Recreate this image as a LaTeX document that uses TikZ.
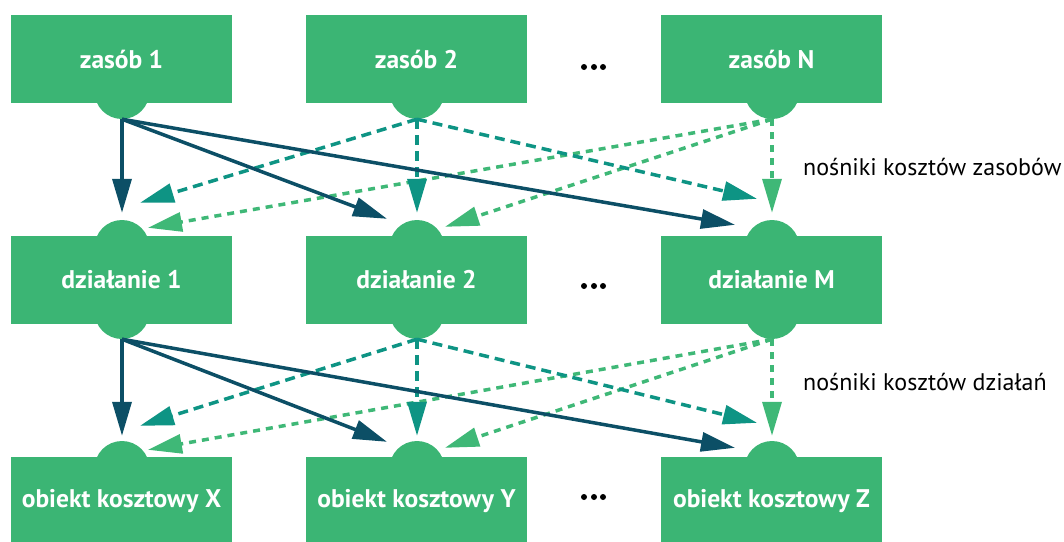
\documentclass[tikz,border=0pt]{standalone}
\usepackage{fontspec}
\setmainfont{PT Sans}
\usetikzlibrary{arrows.meta,calc}
\definecolor{boxgreen}{HTML}{3BB574}
\definecolor{darkblue}{HTML}{0C4F66}
\definecolor{tealc}{HTML}{0E9484}
\definecolor{lightg}{HTML}{3FB877}
\tikzset{
  box/.style={fill=boxgreen, minimum width=221pt, minimum height=88pt, inner sep=0pt,
    text=white, font=\bfseries\fontsize{25.5}{30}\selectfont},
  bump/.style={circle, fill=boxgreen, minimum size=55pt, inner sep=0pt},
  lbl/.style={anchor=west, inner sep=0pt, text=black, font=\fontsize{24}{28}\selectfont},
  dotn/.style={circle, fill=black, minimum size=6pt, inner sep=0pt},
  tip/.style={-{Triangle[length=34pt,width=19pt]}},
  solidarr/.style={tip, draw=darkblue, line width=3.5pt},
  tealarr/.style={tip, draw=tealc, line width=3.5pt, dash pattern=on 10pt off 6pt},
  greenarr/.style={tip, draw=lightg, line width=3.5pt, dash pattern=on 7pt off 6pt},
}
\begin{document}
\begin{tikzpicture}[x=1pt,y=-1pt]
\useasboundingbox (0,0) rectangle (1064,541);
\begin{scope}
\clip (0,0) rectangle (1064,541);
% bumps
\node[bump] (z1b) at (122,91.5) {};
\node[bump] (z2b) at (417,91.5) {};
\node[bump] (zNb) at (772,91.5) {};
\node[bump] (d1t) at (122,247.5) {};
\node[bump] (d2t) at (417,247.5) {};
\node[bump] (dMt) at (772,247.5) {};
\node[bump] (d1b) at (122,311.5) {};
\node[bump] (d2b) at (417,311.5) {};
\node[bump] (dMb) at (772,311.5) {};
\node[bump] (oXt) at (122,468.5) {};
\node[bump] (oYt) at (417,468.5) {};
\node[bump] (oZt) at (772,468.5) {};
% boxes
\node[box] (z1) at (121.5,59) {zasób 1};
\node[box] (z2) at (416.5,59) {zasób 2};
\node[box] (zN) at (771.5,59) {zasób N};
\node[box] (d1) at (121.5,279.5) {działanie 1};
\node[box] (d2) at (416.5,279.5) {działanie 2};
\node[box] (dM) at (771.5,279.5) {działanie M};
\node[box] (oX) at (121.5,501) {obiekt kosztowy X};
\node[box] (oY) at (416.5,501) {obiekt kosztowy Y};
\node[box] (oZ) at (771.5,501) {obiekt kosztowy Z};
\end{scope}
% dots
\foreach \r/\y in {a/67,b/286,c/497}{
  \node[dotn] (dots\r1) at (584,\y) {};
  \node[dotn] (dots\r2) at (594,\y) {};
  \node[dotn] (dots\r3) at (603,\y) {};
}
% labels
\node[lbl] (lz) at (803,167) {nośniki kosztów zasobów};
\node[lbl] (ld) at (803,382) {nośniki kosztów działań};
% arrow end coordinates, level 1
\coordinate (e11) at ($(d1t.north)+(0,-7)$);
\coordinate (e12) at ($(d2t.north)+(-30,-1)$);
\coordinate (e13) at ($(dMt.north)+(-37,5)$);
\coordinate (e21) at ($(d1t.north)+(18,-17)$);
\coordinate (e22) at ($(d2t.north)+(0,-7)$);
\coordinate (e23) at ($(dMt.north)+(-15,-21)$);
\coordinate (e31) at ($(d1t.north)+(26,8)$);
\coordinate (e32) at ($(d2t.north)+(28,7)$);
\coordinate (e33) at ($(dMt.north)+(0,-7)$);
% level 2
\coordinate (f11) at ($(oXt.north)+(0,-5)$);
\coordinate (f12) at ($(oYt.north)+(-30,1)$);
\coordinate (f13) at ($(oZt.north)+(-37,7)$);
\coordinate (f21) at ($(oXt.north)+(18,-15)$);
\coordinate (f22) at ($(oYt.north)+(0,-5)$);
\coordinate (f23) at ($(oZt.north)+(-15,-18)$);
\coordinate (f31) at ($(oXt.north)+(26,9)$);
\coordinate (f32) at ($(oYt.north)+(28,7)$);
\coordinate (f33) at ($(oZt.north)+(0,-5)$);
% level 1 arrows
\draw[greenarr] (zNb.south) -- (e31);
\draw[greenarr] (zNb.south) -- (e32);
\draw[greenarr] (zNb.south) -- (e33);
\draw[tealarr] (z2b.south) -- (e21);
\draw[tealarr] (z2b.south) -- (e22);
\draw[tealarr] (z2b.south) -- (e23);
\draw[solidarr] (z1b.south) -- (e11);
\draw[solidarr] (z1b.south) -- (e12);
\draw[solidarr] (z1b.south) -- (e13);
% level 2 arrows
\draw[greenarr] (dMb.south) -- (f31);
\draw[greenarr] (dMb.south) -- (f32);
\draw[greenarr] (dMb.south) -- (f33);
\draw[tealarr] (d2b.south) -- (f21);
\draw[tealarr] (d2b.south) -- (f22);
\draw[tealarr] (d2b.south) -- (f23);
\draw[solidarr] (d1b.south) -- (f11);
\draw[solidarr] (d1b.south) -- (f12);
\draw[solidarr] (d1b.south) -- (f13);
\end{tikzpicture}
\end{document}
